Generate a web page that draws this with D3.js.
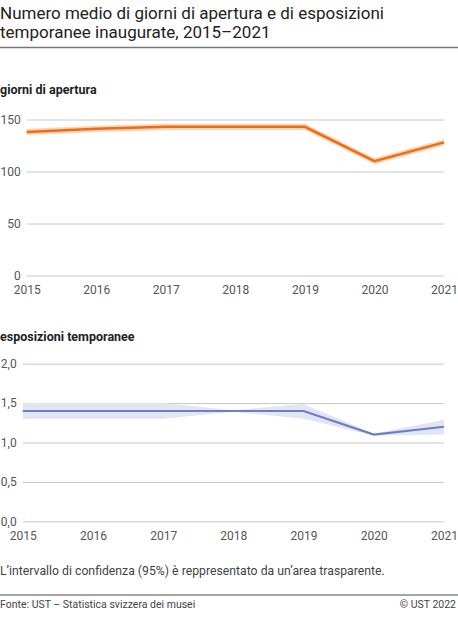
<!DOCTYPE html>
<html>
<head>
<meta charset="utf-8">
<script src="https://cdn.jsdelivr.net/npm/d3@7"></script>
<style>
  html, body { margin: 0; padding: 0; background: #fff; }
  svg { display: block; font-family: Roboto, "Noto Sans", sans-serif; }
</style>
</head>
<body>
<svg id="chart" width="458" height="626"></svg>
<script>
const years = [2015, 2016, 2017, 2018, 2019, 2020, 2021];

const giorniValues = [138, 141, 143, 143, 143, 110, 128];
const giorniLow    = [135, 138, 140, 140, 140, 107, 125];
const giorniHigh   = [141, 144, 146, 146, 146, 113, 131];
const giorniTicks  = [0, 50, 100, 150];

const esposValues = [1.4, 1.4, 1.4, 1.4, 1.4, 1.1, 1.2];
const esposLow    = [1.3, 1.3, 1.3, 1.39, 1.3, 1.09, 1.1];
const esposHigh   = [1.5, 1.5, 1.5, 1.41, 1.49, 1.11, 1.29];
const esposTicks  = [0, 0.5, 1.0, 1.5, 2.0];

const titleLines = ["Numero medio di giorni di apertura e di esposizioni", "temporanee inaugurate, 2015\u20132021"];
const panelTitles = ["giorni di apertura", "esposizioni temporanee"];
const footnote = "L\u2019intervallo di confidenza (95%) \u00e8 reppresentato da un\u2019area trasparente.";
const sourceText = "Fonte: UST \u2013 Statistica svizzera dei musei";
const copyrightText = "\u00a9 UST 2022";

const W = 458;
const svg = d3.select("#chart");

// Title
svg.append("text")
  .attr("x", 0).attr("y", 19)
  .attr("font-size", 17).attr("fill", "#222")
  .selectAll("tspan").data(titleLines).join("tspan")
  .attr("x", 0).attr("dy", (d, i) => i === 0 ? 0 : 18.5)
  .text(d => d);
svg.append("line").attr("x1", 0).attr("x2", W).attr("y1", 47.5).attr("y2", 47.5)
  .attr("stroke", "#777").attr("stroke-width", 1.3);

const fmtIt = d3.formatLocale({decimal: ",", thousands: "'", grouping: [3], currency: ["", ""]});

function panel(cfg) {
  const g = svg.append("g");
  g.append("text").attr("x", 0).attr("y", cfg.titleY)
    .attr("font-size", 12.5).attr("font-weight", "bold").attr("fill", "#222")
    .text(cfg.title);

  const x = d3.scalePoint().domain(years).range([cfg.left, 444]);
  const y = d3.scaleLinear().domain(cfg.domain).range([cfg.bottom, cfg.top]);

  const yAxis = d3.axisLeft(y).tickValues(cfg.ticks).tickSize(-(444 - cfg.left)).tickPadding(6)
    .tickFormat(cfg.fmt);
  const ya = g.append("g").attr("transform", `translate(${cfg.left},0)`).call(yAxis);
  ya.select(".domain").remove();
  ya.selectAll(".tick line").attr("stroke", "#c8c8c8").attr("stroke-width", 1);
  ya.selectAll(".tick text").attr("font-size", 12).attr("fill", "#555")
    .attr("font-family", "Roboto, sans-serif");

  const xAxis = d3.axisBottom(x).tickSize(0).tickPadding(10).tickFormat(d => d);
  const xa = g.append("g").attr("transform", `translate(0,${cfg.bottom})`).call(xAxis);
  xa.select(".domain").remove();
  xa.selectAll(".tick text").attr("font-size", 12).attr("fill", "#555")
    .attr("font-family", "Roboto, sans-serif");

  const idx = years.map((d, i) => i);
  const area = d3.area()
    .x(i => x(years[i]))
    .y0(i => y(cfg.low[i]))
    .y1(i => y(cfg.high[i]));
  g.append("path").datum(idx).attr("d", area).attr("fill", cfg.band);

  const line = d3.line().x(i => x(years[i])).y(i => y(cfg.values[i]));
  g.append("path").datum(idx).attr("d", line)
    .attr("fill", "none").attr("stroke", cfg.color).attr("stroke-width", cfg.sw)
    .attr("stroke-linejoin", "miter");
}

panel({
  title: panelTitles[0], titleY: 94,
  left: 26.7, top: 119.5, bottom: 275.5, domain: [0, 150],
  ticks: giorniTicks, fmt: d => fmtIt.format("d")(d),
  values: giorniValues, low: giorniLow, high: giorniHigh,
  color: "#f26b0f", band: "#fbd6bd", sw: 2.5
});

panel({
  title: panelTitles[1], titleY: 341,
  left: 22.7, top: 363.7, bottom: 521.3, domain: [0, 2],
  ticks: esposTicks, fmt: d => fmtIt.format(".1f")(d),
  values: esposValues, low: esposLow, high: esposHigh,
  color: "#6a80c6", band: "#e2e6f3", sw: 2.2
});

// Footnote
svg.append("text").attr("x", 0).attr("y", 574.5)
  .attr("font-size", 12.25).attr("fill", "#444").text(footnote);

svg.append("line").attr("x1", 0).attr("x2", W).attr("y1", 595).attr("y2", 595)
  .attr("stroke", "#888").attr("stroke-width", 1.3);

svg.append("text").attr("x", 0).attr("y", 607.5)
  .attr("font-size", 10.5).attr("fill", "#444").text(sourceText);
svg.append("text").attr("x", 456).attr("y", 607.5).attr("text-anchor", "end")
  .attr("font-size", 10.5).attr("fill", "#444").text(copyrightText);
</script>
</body>
</html>
